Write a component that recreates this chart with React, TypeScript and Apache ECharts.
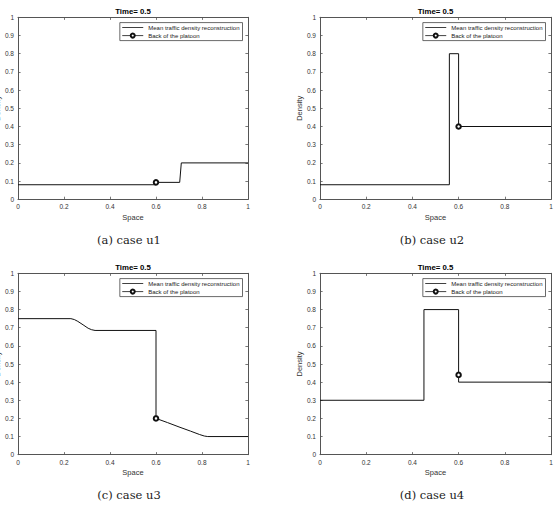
import React, { useEffect, useRef } from "react";
import * as echarts from "echarts";

// ---- data ----
const spaceU1 = [0, 0.6, 0.6, 0.703, 0.71, 1];
const densityU1 = [0.08, 0.08, 0.093, 0.093, 0.2, 0.2];
const platoonU1 = [0.6, 0.093];

const spaceU2 = [0, 0.56, 0.56, 0.6, 0.6, 1];
const densityU2 = [0.08, 0.08, 0.8, 0.8, 0.4, 0.4];
const platoonU2 = [0.6, 0.4];

const spaceU3 = [0, 0.23, 0.245, 0.26, 0.283, 0.305, 0.32, 0.335, 0.6, 0.6, 0.65, 0.7, 0.75, 0.79, 0.81, 0.825, 1];
const densityU3 = [0.75, 0.75, 0.745, 0.735, 0.716, 0.697, 0.689, 0.685, 0.685, 0.2, 0.177, 0.153, 0.13, 0.111, 0.103, 0.1, 0.1];
const platoonU3 = [0.6, 0.2];

const spaceU4 = [0, 0.45, 0.45, 0.6, 0.6, 1];
const densityU4 = [0.3, 0.3, 0.8, 0.8, 0.4, 0.4];
const platoonU4 = [0.6, 0.44];

const captions = ["(a) case u1", "(b) case u2", "(c) case u3", "(d) case u4"];
const plotTitle = "Time= 0.5";
const xName = "Space";
const yName = "Density";
const seriesNames = ["Mean traffic density reconstruction", "Back of the platoon"];

const panels = [
  { x: spaceU1, y: densityU1, p: platoonU1 },
  { x: spaceU2, y: densityU2, p: platoonU2 },
  { x: spaceU3, y: densityU3, p: platoonU3 },
  { x: spaceU4, y: densityU4, p: platoonU4 },
];

// ---- layout ----
const W = 556;
const H = 508;
const grids = [
  { left: 18, top: 17.3, width: 230, height: 182 },
  { left: 320, top: 17.3, width: 231, height: 182 },
  { left: 18, top: 273.3, width: 230, height: 181.4 },
  { left: 320, top: 273.3, width: 231, height: 181.4 },
];
const captionPos = [
  [129, 240],
  [432, 240],
  [129, 495],
  [432, 495],
];

const FONT = "Liberation Sans";
const AXIS_COLOR = "#555";
const TEXT_COLOR = "#333";

export default function App() {
  const ref = useRef<HTMLDivElement>(null);
  useEffect(() => {
    if (!ref.current) return;
    const chart = echarts.init(ref.current, undefined, { renderer: "svg" });

    const xAxis: any[] = [];
    const yAxis: any[] = [];
    const series: any[] = [];
    const legend: any[] = [];
    const graphic: any[] = [];

    const tick = { show: true, inside: true, length: 2.6, lineStyle: { color: AXIS_COLOR, width: 0.8 } };
    const line = { show: true, onZero: false, lineStyle: { color: AXIS_COLOR, width: 1 } };

    panels.forEach((pn, i) => {
      xAxis.push({
        type: "value", gridIndex: i, position: "bottom", min: 0, max: 1, interval: 0.2,
        axisLine: line, axisTick: tick, splitLine: { show: false },
        axisLabel: { fontSize: 6.5, color: TEXT_COLOR, margin: 4, fontFamily: FONT },
        name: xName, nameLocation: "middle", nameGap: 14,
        nameTextStyle: { fontSize: 7.5, color: TEXT_COLOR, fontFamily: FONT },
      });
      xAxis.push({
        type: "value", gridIndex: i, position: "top", min: 0, max: 1, interval: 0.2,
        axisLine: line, axisTick: tick, splitLine: { show: false }, axisLabel: { show: false },
        name: plotTitle, nameLocation: "middle", nameGap: 2,
        nameTextStyle: { fontSize: 7.8, fontWeight: "bold", color: "#000", fontFamily: FONT },
      });
      yAxis.push({
        type: "value", gridIndex: i, position: "left", min: 0, max: 1, interval: 0.1,
        axisLine: line, axisTick: tick, splitLine: { show: false },
        axisLabel: { fontSize: 6.5, color: TEXT_COLOR, margin: 4, fontFamily: FONT },
        name: yName, nameLocation: "middle", nameGap: 15,
        nameTextStyle: { fontSize: 7.5, color: TEXT_COLOR, fontFamily: FONT },
      });
      yAxis.push({
        type: "value", gridIndex: i, position: "right", min: 0, max: 1, interval: 0.1,
        axisLine: line, axisTick: tick, splitLine: { show: false }, axisLabel: { show: false },
      });

      series.push({
        name: seriesNames[0], type: "line", xAxisIndex: 2 * i, yAxisIndex: 2 * i,
        data: pn.x.map((v, k) => [v, pn.y[k]]),
        symbol: "none", lineStyle: { color: "#111", width: 1 }, itemStyle: { color: "#111" },
      });
      series.push({
        name: seriesNames[1], type: "line", xAxisIndex: 2 * i, yAxisIndex: 2 * i,
        data: [pn.p], symbol: "emptyCircle", symbolSize: 4.5, showSymbol: true,
        lineStyle: { color: "#111", width: 0.8 }, itemStyle: { color: "#111", borderColor: "#111", borderWidth: 0.9 },
        z: 5,
      });

      const g = grids[i];
      legend.push({
        data: [
          { name: seriesNames[0], icon: "path://M0,0H21V0.8H0Z" },
          { name: seriesNames[1] },
        ],
        orient: "vertical",
        right: W - (g.left + g.width) + 5.5, top: g.top + 5.3,
        itemWidth: 21, itemHeight: 5, itemGap: 2,
        padding: [2, 3, 2, 2],
        borderColor: "#444", borderWidth: 0.8, backgroundColor: "#fff",
        lineStyle: { width: 0.8 },
        itemStyle: { borderWidth: 0.8 },
        textStyle: { fontSize: 6, color: "#222", fontFamily: FONT },
        selectedMode: false,
      });

      graphic.push({
        type: "text", x: captionPos[i][0], y: captionPos[i][1],
        style: {
          text: captions[i], fontFamily: "DejaVu Serif", fontSize: 11.5, fill: "#222",
          textAlign: "center", textVerticalAlign: "middle",
        },
      });
    });

    chart.setOption({
      animation: false,
      backgroundColor: "#fff",
      grid: grids.map((g) => ({ ...g, containLabel: false, outerBoundsMode: "none" })),
      xAxis, yAxis, series, legend, graphic,
    });
    return () => chart.dispose();
  }, []);
  return <div ref={ref} style={{ position: "fixed", left: 0, top: 0, width: W, height: H }} />;
}
